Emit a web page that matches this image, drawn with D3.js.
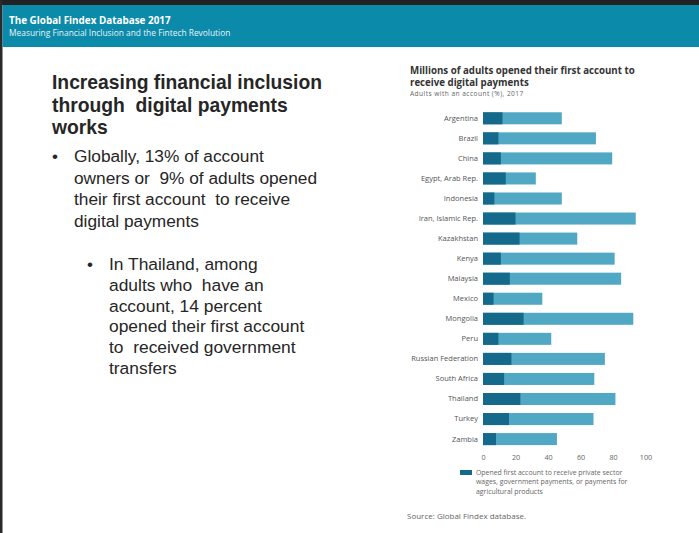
<!DOCTYPE html>
<html>
<head>
<meta charset="utf-8">
<script src="https://cdn.jsdelivr.net/npm/d3@7/dist/d3.min.js"></script>
<style>
  html, body { margin: 0; padding: 0; background: #fff; }
  svg { display: block; }
  text { white-space: pre; }
</style>
</head>
<body>
<script>
// Adults who opened their first account to receive payments vs. all adults with an account (%), 2017
const countries = [
  "Argentina", "Brazil", "China", "Egypt, Arab Rep.", "Indonesia",
  "Iran, Islamic Rep.", "Kazakhstan", "Kenya", "Malaysia", "Mexico",
  "Mongolia", "Peru", "Russian Federation", "South Africa", "Thailand",
  "Turkey", "Zambia"
];
const openedForPayments = [12, 9.5, 11, 14, 7, 20, 22.5, 11, 16.5, 6.5, 25, 9.5, 17.5, 13, 23, 16, 8];
const withAccount = [48.5, 69.5, 79.5, 32.5, 48.5, 94, 58, 81, 85, 36.5, 92.5, 42, 75, 68.5, 81.5, 68, 45.5];
const xTicks = [0, 20, 40, 60, 80, 100];

const headerTitle = "The Global Findex Database 2017";
const headerSubtitle = "Measuring Financial Inclusion and the Fintech Revolution";
const slideTitle = ["Increasing financial inclusion", "through  digital payments", "works"];
const bullet1 = ["Globally, 13% of account", "owners or  9% of adults opened", "their first account  to receive", "digital payments"];
const bullet2 = ["In Thailand, among", "adults who  have an", "account, 14 percent", "opened their first account", "to  received government", "transfers"];
const chartTitle = ["Millions of adults opened their first account to", "receive digital payments"];
const chartSubtitle = "Adults with an account (%), 2017";
const legendLines = ["Opened first account to receive private sector", "wages, government payments, or payments for", "agricultural products"];
const sourceNote = "Source: Global Findex database.";

const W = 699, H = 533;
const svg = d3.select("body").append("svg").attr("width", W).attr("height", H);

// slide frame and banner
svg.append("rect").attr("x", 0).attr("y", 0).attr("width", W).attr("height", H).attr("fill", "#fff");
svg.append("rect").attr("x", 0).attr("y", 0).attr("width", W).attr("height", 5).attr("fill", "#222");
svg.append("rect").attr("x", 0).attr("y", 0).attr("width", 2.5).attr("height", H).attr("fill", "#2a2a2a");
svg.append("rect").attr("x", 2.5).attr("y", 5).attr("width", W - 2.5).attr("height", 42).attr("fill", "#0b8aaa");

const sans = "'Open Sans', sans-serif";
svg.append("text").attr("x", 9).attr("y", 24)
  .attr("font-family", sans).attr("font-weight", "bold")
  .attr("font-size", 9.9).attr("fill", "#fff").text(headerTitle);
svg.append("text").attr("x", 9).attr("y", 35.5)
  .attr("font-family", sans)
  .attr("font-size", 8.4).attr("fill", "#e8f4f8").text(headerSubtitle);

// left-hand text block
const arial = "'Liberation Sans', Arial, sans-serif";
svg.append("g").selectAll("text").data(slideTitle).join("text")
  .attr("x", 52).attr("y", (d, i) => 89 + i * 22.5)
  .attr("font-family", arial).attr("font-weight", "bold")
  .attr("font-size", 19.3).attr("fill", "#262626").text(d => d);

svg.append("text").attr("x", 52).attr("y", 162)
  .attr("font-family", arial).attr("font-size", 17).attr("fill", "#262626").text("•");
svg.append("g").selectAll("text").data(bullet1).join("text")
  .attr("x", 74).attr("y", (d, i) => 162 + i * 21.5)
  .attr("font-family", arial).attr("font-size", 17.3).attr("fill", "#262626").text(d => d);

svg.append("text").attr("x", 87).attr("y", 270)
  .attr("font-family", arial).attr("font-size", 17).attr("fill", "#262626").text("•");
svg.append("g").selectAll("text").data(bullet2).join("text")
  .attr("x", 109).attr("y", (d, i) => 270 + i * 20.8)
  .attr("font-family", arial).attr("font-size", 17.4).attr("fill", "#262626").text(d => d);

// chart
svg.append("g").selectAll("text").data(chartTitle).join("text")
  .attr("x", 410).attr("y", (d, i) => 74.3 + i * 11.7)
  .attr("font-family", sans).attr("font-weight", "bold")
  .attr("font-size", 9.7).attr("fill", "#333").text(d => d);
svg.append("text").attr("x", 410).attr("y", 96)
  .attr("font-family", sans).attr("font-size", 6.6).attr("letter-spacing", 0.45)
  .attr("fill", "#666").text(chartSubtitle);

const x = d3.scaleLinear().domain([0, 100]).range([483, 645.5]);
const y = d3.scaleBand().domain(countries).range([108.27, 449.12])
  .paddingInner(0.4).paddingOuter(0.2);

const dark = "#15698b", light = "#50a8c5";
const rows = countries.map((c, i) => ({ c, a: openedForPayments[i], t: withAccount[i] }));

svg.append("g").selectAll("rect").data(rows).join("rect")
  .attr("x", x(0)).attr("y", d => y(d.c))
  .attr("width", d => x(d.t) - x(0)).attr("height", y.bandwidth())
  .attr("fill", light);
svg.append("g").selectAll("rect").data(rows).join("rect")
  .attr("x", x(0)).attr("y", d => y(d.c))
  .attr("width", d => x(d.a) - x(0)).attr("height", y.bandwidth())
  .attr("fill", dark);

// category axis (labels only)
const yAxis = svg.append("g").attr("transform", `translate(${x(0)},0)`)
  .call(d3.axisLeft(y).tickSize(0).tickPadding(5));
yAxis.select(".domain").remove();
yAxis.selectAll("text").attr("font-family", sans).attr("font-size", 7.5).attr("fill", "#555");

// value axis (labels only)
const xAxis = svg.append("g").attr("transform", "translate(0,452)")
  .call(d3.axisBottom(x).tickValues(xTicks).tickSize(0).tickPadding(3));
xAxis.select(".domain").remove();
xAxis.selectAll("text").attr("font-family", sans).attr("font-size", 7.2).attr("fill", "#666");

// legend
svg.append("rect").attr("x", 460).attr("y", 470).attr("width", 12).attr("height", 5).attr("fill", dark);
svg.append("g").selectAll("text").data(legendLines).join("text")
  .attr("x", 476).attr("y", (d, i) => 474.5 + i * 9.6)
  .attr("font-family", sans).attr("font-size", 6.9).attr("fill", "#666").text(d => d);

svg.append("text").attr("x", 407).attr("y", 519)
  .attr("font-family", sans).attr("font-size", 8).attr("fill", "#666").text(sourceNote);
</script>
</body>
</html>
